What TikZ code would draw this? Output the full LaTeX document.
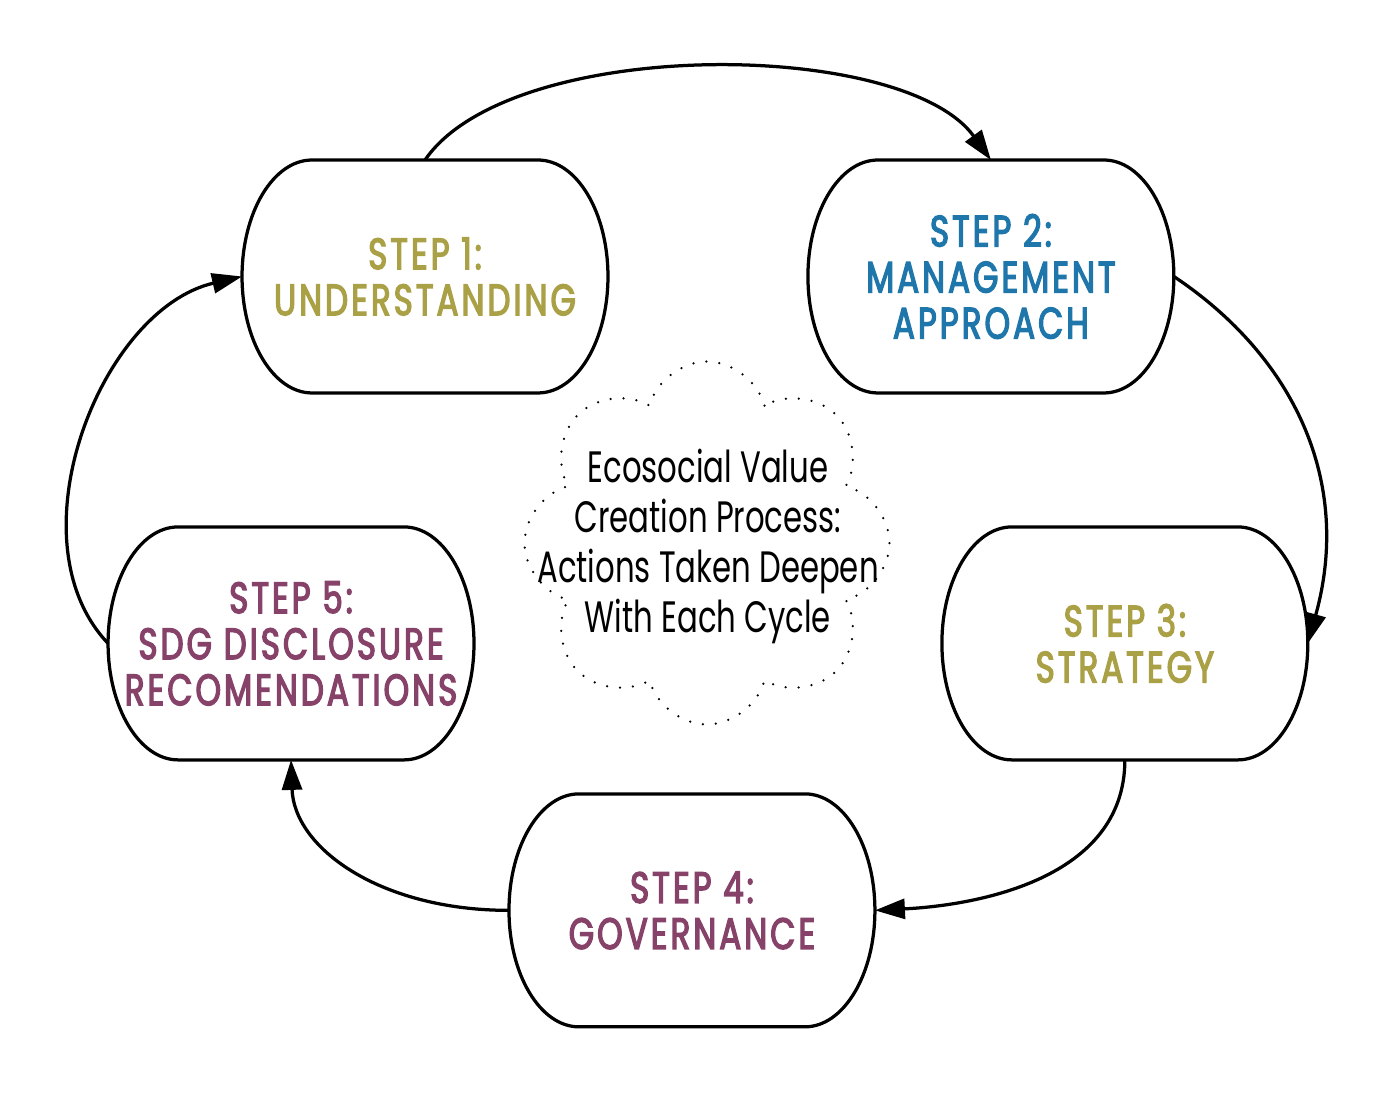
\documentclass[tikz,border=0pt]{standalone}
\usepackage{fontspec}
\setmainfont{Poppins}
\newfontfamily\stepfont[FakeStretch=0.74, LetterSpace=7, FakeBold=3]{Poppins}
\newfontfamily\cloudfont[FakeStretch=0.7]{Poppins}
\usetikzlibrary{positioning,shapes.symbols,arrows.meta}
\definecolor{stepolive}{RGB}{170,160,70}
\definecolor{stepblue}{RGB}{30,118,170}
\definecolor{stepplum}{RGB}{135,66,105}

\begin{document}
\begin{tikzpicture}[x=0.02cm, y=0.02cm, line width=0.065cm,
    main/.style = {rectangle, minimum width=7.32cm, minimum height=4.66cm, inner sep=0pt, outer sep=0pt, align=center, font=\stepfont\fontsize{25}{26.2}\selectfont},
    idea/.style = {cloud, cloud puffs=8, aspect=1, minimum width=7.3cm, minimum height=7.26cm, inner sep=0pt, draw, line width=0.05cm, dash pattern=on 0pt off 0.26cm, line cap=round},
    link/.style = {-{Triangle[length=0.6cm, width=0.4cm]}}]
  \useasboundingbox (0,0) rectangle (1400,1095);
  \node[main, text=stepolive] (s1) at (425,818.5) {STEP 1:\\UNDERSTANDING};
  \node[main, text=stepblue] (s2) [right=4cm of s1] {STEP 2:\\MANAGEMENT\\APPROACH};
  \node[main, text=stepolive] (s3) [below=2.68cm of s2, xshift=2.68cm] {STEP 3:\\STRATEGY};
  \node[main, text=stepplum] (s5) [below=2.68cm of s1, xshift=-2.68cm] {STEP 5:\\SDG DISCLOSURE\\RECOMENDATIONS};
  \node[main, text=stepplum] (s4) [below=0.68cm of s5, xshift=8.02cm] {STEP 4:\\GOVERNANCE};
  \node[idea] (c) at (707,552) {};
  \node[align=center, font=\cloudfont\fontsize{25}{28.45}\selectfont] (ctext) at (708,549) {Ecosocial Value\\Creation Process:\\Actions Taken Deepen\\With Each Cycle};
  % rounded outlines
  \foreach \n in {s1,s2,s3,s4,s5}
    \draw ([xshift=1.4cm]\n.north west) -- ([xshift=-1.4cm]\n.north east)
      arc[start angle=90, end angle=-90, x radius=1.4cm, y radius=2.33cm]
      -- ([xshift=1.4cm]\n.south west)
      arc[start angle=270, end angle=90, x radius=1.4cm, y radius=2.33cm] -- cycle;
  % cycle arrows
  \draw[link] (s1.north) .. controls +(85,124) and +(-88,122) .. (s2.north);
  \draw[link] (s2.east) .. controls +(120,-80) and +(45,162) .. (s3.east);
  \draw[link] (s3.south) .. controls +(0,-120) and +(100,5) .. (s4.east);
  \draw[link] (s4.west) .. controls +(-129,0) and +(3,-88) .. (s5.south);
  \draw[link] (s5.west) .. controls +(-98,103) and +(-142,-33) .. (s1.west);
\end{tikzpicture}
\end{document}
